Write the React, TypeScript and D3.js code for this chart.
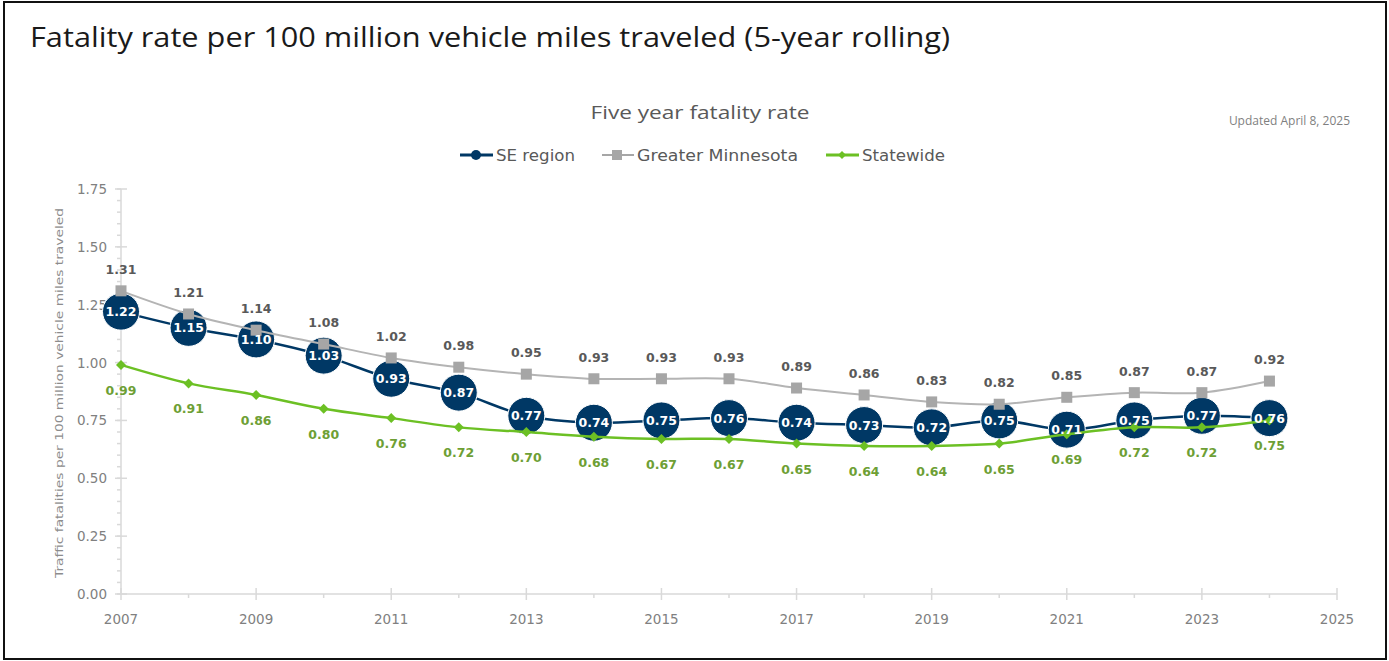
import React from "react";
import * as d3 from "d3";

const years = [2007, 2008, 2009, 2010, 2011, 2012, 2013, 2014, 2015, 2016, 2017, 2018, 2019, 2020, 2021, 2022, 2023, 2024];
const seRegion = [1.22, 1.15, 1.10, 1.03, 0.93, 0.87, 0.77, 0.74, 0.75, 0.76, 0.74, 0.73, 0.72, 0.75, 0.71, 0.75, 0.77, 0.76];
const greaterMN = [1.31, 1.21, 1.14, 1.08, 1.02, 0.98, 0.95, 0.93, 0.93, 0.93, 0.89, 0.86, 0.83, 0.82, 0.85, 0.87, 0.87, 0.92];
const statewide = [0.99, 0.91, 0.86, 0.80, 0.76, 0.72, 0.70, 0.68, 0.67, 0.67, 0.65, 0.64, 0.64, 0.65, 0.69, 0.72, 0.72, 0.75];
const yTicks = [0, 0.25, 0.5, 0.75, 1.0, 1.25, 1.5, 1.75];
const xTickLabels = [2007, 2009, 2011, 2013, 2015, 2017, 2019, 2021, 2023, 2025];

const NAVY = "#003865";
const GRAY = "#a6a6a6";
const GREEN = "#6cc024";
const GREEN_LABEL = "#6e9f35";
const AXIS = "#d9d9d9";
const TXT = "#808080";
const FONT = "'DejaVu Sans', Verdana, sans-serif";

export default function App() {
  const W = 1389, H = 661;
  const x = d3.scaleLinear().domain([2007, 2025]).range([121, 1337]);
  const y = d3.scaleLinear().domain([0, 1.75]).range([594, 189]);
  const curve = d3.curveCardinal.tension(0);
  const mk = (vals: number[]) =>
    d3.line<number>().x((_, i) => x(years[i])).y((v) => y(v)).curve(curve)(vals) || "";

  const minorY = d3.range(0, 1.7501, 0.05);
  const allYears = d3.range(2007, 2026);

  return (
    <svg width={W} height={H} style={{ position: "absolute", left: 0, top: 0, background: "#fff" }}>
      <rect x={0} y={0} width={W} height={H} fill="#fff" />
      <rect x={4} y={2} width={1382} height={657} fill="none" stroke="#111" strokeWidth={2} />
      <text x={30} y={47} fontFamily="'Open Sans', 'Noto Sans', sans-serif" fontSize={27} fill="#1a1a1a"
        textLength={920} lengthAdjust="spacingAndGlyphs">
        Fatality rate per 100 million vehicle miles traveled (5-year rolling)
      </text>
      <text x={700} y={119} textAnchor="middle" fontFamily="'Open Sans', sans-serif" fontSize={19} fill="#595959"
        textLength={219} lengthAdjust="spacingAndGlyphs">
        Five year fatality rate
      </text>
      <text x={1350} y={125} textAnchor="end" fontFamily="'Open Sans', sans-serif" fontSize={12} fill="#7f7f7f">
        Updated April 8, 2025
      </text>

      {/* legend */}
      <g fontFamily={FONT} fontSize={15} fill="#595959">
        <line x1={460} x2={493} y1={155} y2={155} stroke={NAVY} strokeWidth={3} />
        <circle cx={476} cy={155} r={5} fill={NAVY} />
        <text x={496} y={160.5} textLength={79} lengthAdjust="spacingAndGlyphs">SE region</text>
        <line x1={602} x2={634} y1={155} y2={155} stroke={GRAY} strokeWidth={2} />
        <rect x={612} y={150} width={10} height={10} fill={GRAY} />
        <text x={637} y={160.5} textLength={161} lengthAdjust="spacingAndGlyphs">Greater Minnesota</text>
        <line x1={826} x2={859} y1={155} y2={155} stroke={GREEN} strokeWidth={3} />
        <path d="M842,151 L846,155 L842,159 L838,155 Z" fill={GREEN} />
        <text x={862} y={160.5} textLength={83} lengthAdjust="spacingAndGlyphs">Statewide</text>
      </g>

      {/* y axis title */}
      <text transform={`translate(63,${(578 + 208) / 2}) rotate(-90)`} textAnchor="middle" fontFamily={FONT}
        fontSize={11} fill="#8c8c8c" textLength={370} lengthAdjust="spacingAndGlyphs">
        Traffic fatalities per 100 million vehicle miles traveled
      </text>

      {/* axes */}
      <g stroke={AXIS} strokeWidth={1.5}>
        <line x1={121} x2={121} y1={189} y2={594} />
        <line x1={121} x2={1337} y1={594} y2={594} />
        {minorY.map((v, i) => (
          <line key={"my" + i} x1={117} x2={121} y1={y(v)} y2={y(v)} />
        ))}
        {yTicks.map((v) => (
          <line key={"Y" + v} x1={115} x2={127} y1={y(v)} y2={y(v)} />
        ))}
        {allYears.map((yr) => (
          (yr - 2007) % 2 === 0 ? (
            <line key={"X" + yr} x1={x(yr)} x2={x(yr)} y1={588} y2={600} />
          ) : (
            <line key={"mx" + yr} x1={x(yr)} x2={x(yr)} y1={594} y2={598} />
          )
        ))}
      </g>
      <g fontFamily={FONT} fontSize={13.5} fill={TXT}>
        {yTicks.map((v) => (
          <text key={"yl" + v} x={107} y={y(v) + 5} textAnchor="end">{v.toFixed(2)}</text>
        ))}
        {xTickLabels.map((yr) => (
          <text key={"xl" + yr} x={x(yr)} y={624} textAnchor="middle">{yr}</text>
        ))}
      </g>

      {/* SE region */}
      <path d={mk(seRegion)} fill="none" stroke={NAVY} strokeWidth={2.5} />
      {seRegion.map((v, i) => (
        <circle key={"sc" + i} cx={x(years[i])} cy={y(v)} r={18.5} fill={NAVY} stroke="#fff" strokeWidth={1} />
      ))}

      {/* Greater Minnesota */}
      <path d={mk(greaterMN)} fill="none" stroke="#b4b4b4" strokeWidth={2} />
      {greaterMN.map((v, i) => (
        <rect key={"gr" + i} x={x(years[i]) - 5.5} y={y(v) - 5.5} width={11} height={11} fill={GRAY} />
      ))}

      {/* Statewide */}
      <path d={mk(statewide)} fill="none" stroke={GREEN} strokeWidth={2.5} />
      {statewide.map((v, i) => {
        const cx = x(years[i]), cy = y(v);
        return <path key={"sd" + i} d={`M${cx},${cy - 5} L${cx + 5},${cy} L${cx},${cy + 5} L${cx - 5},${cy} Z`} fill={GREEN} />;
      })}

      {/* labels */}
      <g fontFamily={FONT} fontSize={12.5} fontWeight="bold" textAnchor="middle">
        {seRegion.map((v, i) => (
          <text key={"sl" + i} x={x(years[i])} y={y(v) + 4.5} fill="#fff">{v.toFixed(2)}</text>
        ))}
        {greaterMN.map((v, i) => (
          <text key={"gl" + i} x={x(years[i])} y={y(v) - 17} fill="#595959">{v.toFixed(2)}</text>
        ))}
        {statewide.map((v, i) => (
          <text key={"wl" + i} x={x(years[i])} y={y(v) + 30} fill={GREEN_LABEL}>{v.toFixed(2)}</text>
        ))}
      </g>
    </svg>
  );
}
